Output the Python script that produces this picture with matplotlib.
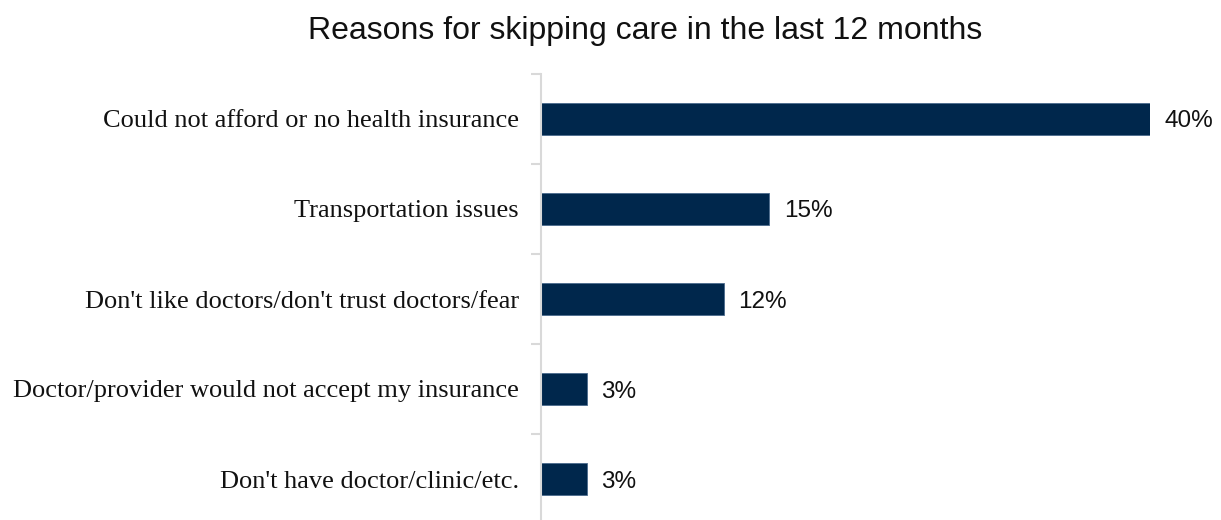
import matplotlib
matplotlib.use("Agg")
import matplotlib.pyplot as plt

categories = ["Could not afford or no health insurance",
              "Transportation issues",
              "Don't like doctors/don't trust doctors/fear",
              "Doctor/provider would not accept my insurance",
              "Don't have doctor/clinic/etc."]
values = [40, 15, 12, 3, 3]
value_labels = ["40%", "15%", "12%", "3%", "3%"]
title = "Reasons for skipping care in the last 12 months"

W, H = 1221, 520
fig = plt.figure(figsize=(W/100, H/100), dpi=100)
left, right, top, bottom = 541, 1150, 74, 524
ax = fig.add_axes([left/W, 1-bottom/H, (right-left)/W, (bottom-top)/H])

n = len(categories)
ypos = list(range(n))
ax.barh(ypos, values, height=0.36, color="#00274C", edgecolor="#4a6a8c", linewidth=0.6)
ax.set_xlim(0, 40)
ax.set_ylim(n-0.5, -0.5)

for y, v, lab in zip(ypos, values, value_labels):
    ax.text(v + 0.95, y, lab, va="center_baseline", ha="left", fontsize=17.5,
            family="Liberation Sans", color="#111111", clip_on=False)

for s in ["top", "right", "bottom"]:
    ax.spines[s].set_visible(False)
ax.spines["left"].set_color("#d9d9d9")
ax.spines["left"].set_linewidth(1.5)
ax.set_xticks([])
ax.set_yticks(ypos)
ax.set_yticklabels(categories, family="Liberation Serif", fontsize=19, color="#111111")
ax.tick_params(axis="y", which="major", length=0, pad=16)
ax.set_yticks([i - 0.5 for i in range(n + 1)], minor=True)
ax.tick_params(axis="y", which="minor", length=7, width=1.5, color="#d9d9d9")

fig.text(645/W, 1-31/H, title, ha="center", va="center", fontsize=23,
         family="Liberation Sans", color="#111111")

fig.savefig("out.png", dpi=100)
